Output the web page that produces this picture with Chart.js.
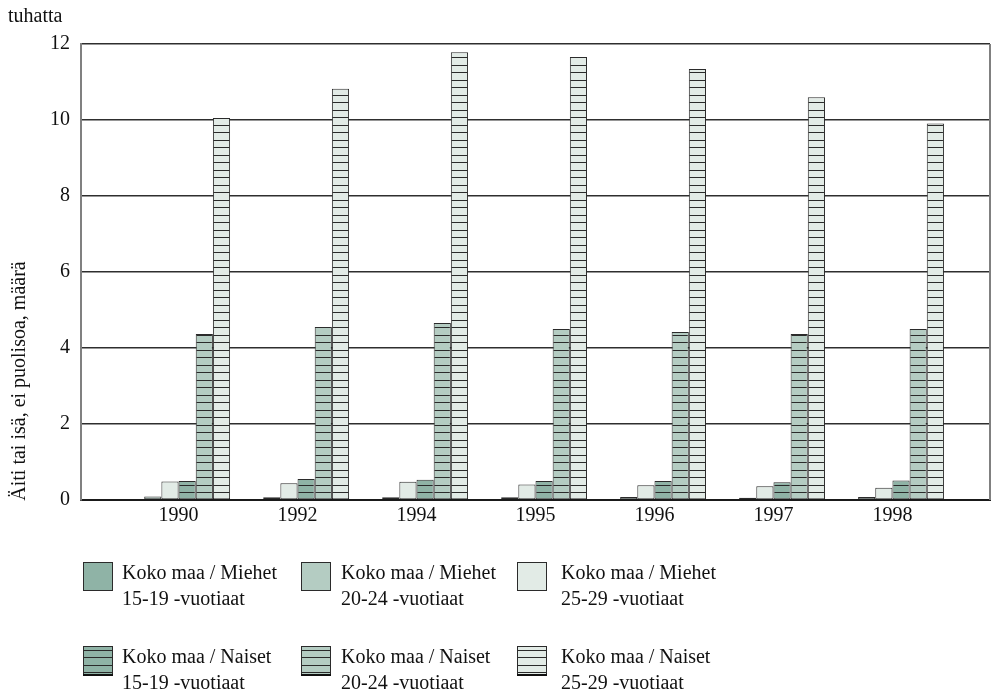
<!DOCTYPE html>
<html>
<head>
<meta charset="utf-8">
<script src="https://cdn.jsdelivr.net/npm/chart.js@4"></script>
<style>
  html, body { margin: 0; padding: 0; background: #fff; }
  canvas { display: block; }
</style>
</head>
<body>
<canvas id="c" width="996" height="694"></canvas>
<script>
const years = ['1990', '1992', '1994', '1995', '1996', '1997', '1998'];
const yTicks = [0, 2, 4, 6, 8, 10, 12];
const seriesNames = [
  ['Koko maa / Miehet', '15-19 -vuotiaat'],
  ['Koko maa / Miehet', '20-24 -vuotiaat'],
  ['Koko maa / Miehet', '25-29 -vuotiaat'],
  ['Koko maa / Naiset', '15-19 -vuotiaat'],
  ['Koko maa / Naiset', '20-24 -vuotiaat'],
  ['Koko maa / Naiset', '25-29 -vuotiaat']
];
const miehet1519 = [0.02, 0.01, 0.01, 0.02, 0.02, 0.02, 0.02];
const miehet2024 = [0.09, 0.07, 0.07, 0.07, 0.08, 0.06, 0.08];
const miehet2529 = [0.49, 0.44, 0.48, 0.41, 0.39, 0.36, 0.32];
const naiset1519 = [0.50, 0.55, 0.53, 0.50, 0.50, 0.47, 0.51];
const naiset2024 = [4.37, 4.55, 4.66, 4.50, 4.42, 4.37, 4.50];
const naiset2529 = [10.05, 10.82, 11.78, 11.66, 11.34, 10.60, 9.91];
const yTitle = 'Äiti tai isä, ei puolisoa, määrä';
const unitLabel = 'tuhatta';

const FONT = '"Liberation Serif", "Times New Roman", serif';
const colDark = '#8fb3a6';
const colMid = '#b4ccc2';
const colLight = '#e2ebe6';

function hatch(bg) {
  const c = document.createElement('canvas');
  c.width = 8; c.height = 15;
  const g = c.getContext('2d');
  g.fillStyle = bg; g.fillRect(0, 0, 8, 15);
  g.fillStyle = '#2a2a2a';
  g.fillRect(0, 5, 8, 1);
  g.fillRect(0, 12, 8, 1);
  return g.createPattern(c, 'repeat');
}
const ctx = document.getElementById('c').getContext('2d');
const fills = [colDark, colMid, colLight, hatch(colDark), hatch(colMid), hatch(colLight)];
const values = [miehet1519, miehet2024, miehet2529, naiset1519, naiset2024, naiset2529];

const datasets = values.map((arr, k) => ({
  label: seriesNames[k].join(' '),
  data: arr.map((v, i) => ({ x: i, y: v })),
  backgroundColor: fills[k],
  borderColor: '#2b2b2b',
  borderWidth: 1,
  borderSkipped: false,
  categoryPercentage: 0.866,
  barPercentage: 1.0
}));

const decor = {
  id: 'decor',
  afterDraw(chart) {
    const c = chart.ctx;
    const a = chart.chartArea;
    c.save();
    // right border
    c.strokeStyle = '#808080';
    c.lineWidth = 2;
    c.beginPath();
    c.moveTo(a.right, a.top); c.lineTo(a.right, a.bottom);
    c.stroke();
    // unit label
    c.fillStyle = '#111';
    c.font = '20px ' + FONT;
    c.textAlign = 'left';
    c.textBaseline = 'alphabetic';
    c.fillText(unitLabel, 8, 22);
    // y title
    c.save();
    c.translate(25, 381);
    c.rotate(-Math.PI / 2);
    c.textAlign = 'center';
    c.fillText(yTitle, 0, 0);
    c.restore();
    // legend
    const colsBox = [83, 301, 517];
    const colsText = [122, 341, 561];
    const rowsBox = [562, 646];
    const rowsText = [[579, 605], [663, 689]];
    for (let k = 0; k < 6; k++) {
      const col = k % 3, row = Math.floor(k / 3);
      const bx = colsBox[col], by = rowsBox[row];
      c.fillStyle = fills[k];
      c.fillRect(bx, by, 30, 29);
      c.strokeStyle = '#2b2b2b';
      c.lineWidth = 1;
      c.strokeRect(bx + 0.5, by + 0.5, 29, 28);
      if (row === 1) {
        c.fillStyle = '#111';
        c.fillRect(bx, by + 28, 30, 2);
      }
      c.fillStyle = '#111';
      c.textAlign = 'left';
      c.fillText(seriesNames[k][0], colsText[col], rowsText[row][0]);
      c.fillText(seriesNames[k][1], colsText[col], rowsText[row][1]);
    }
    c.restore();
  }
};

new Chart(ctx, {
  type: 'bar',
  data: { datasets },
  options: {
    responsive: false,
    animation: false,
    events: [],
    layout: { padding: { left: 0, right: 6, top: 44, bottom: 164 } },
    plugins: { legend: { display: false }, tooltip: { enabled: false } },
    scales: {
      x: {
        type: 'linear',
        offset: false,
        min: -0.82,
        max: 6.82,
        afterFit(s) { s.height = 30; },
        afterBuildTicks(s) { s.ticks = years.map((y, i) => ({ value: i })); },
        ticks: {
          autoSkip: false,
          maxRotation: 0,
          padding: 4,
          color: '#111',
          font: { family: FONT, size: 20 },
          callback: (v) => years[v] !== undefined ? years[v] : ''
        },
        grid: { display: false, drawTicks: false, offset: false },
        border: { display: true, color: '#1a1a1a', width: 2 }
      },
      y: {
        min: 0,
        max: 12,
        afterFit(s) { s.width = 81; },
        afterBuildTicks(s) { s.ticks = yTicks.map(v => ({ value: v })); },
        ticks: {
          padding: 11,
          color: '#111',
          font: { family: FONT, size: 20 }
        },
        grid: { color: '#2e2e2e', lineWidth: 1.5, drawTicks: false },
        border: { display: true, color: '#808080', width: 2 }
      }
    }
  },
  plugins: [decor]
});
</script>
</body>
</html>
